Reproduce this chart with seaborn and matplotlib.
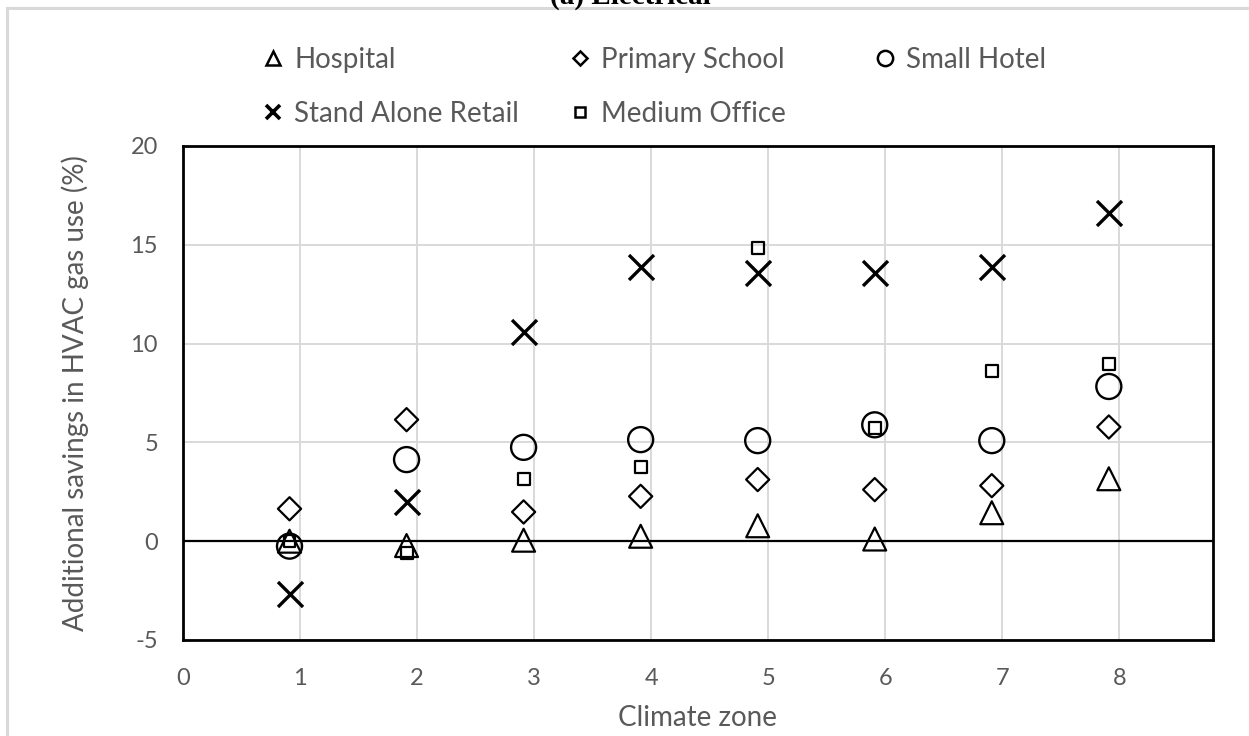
import matplotlib
matplotlib.use("Agg")
import matplotlib.pyplot as plt
import seaborn as sns
import pandas as pd
from matplotlib.lines import Line2D
from matplotlib.patches import Rectangle

# Climate zones and the position each zone's markers sit at
zones = [1, 2, 3, 4, 5, 6, 7, 8]
zone_x = [0.91, 1.91, 2.91, 3.91, 4.91, 5.91, 6.91, 7.91]

# Additional savings in HVAC gas use (%) per building type
hospital = [0.0, -0.22, 0.05, 0.25, 0.78, 0.11, 1.44, 3.16]
primary_school = [1.64, 6.15, 1.48, 2.27, 3.12, 2.61, 2.81, 5.78]
small_hotel = [-0.25, 4.13, 4.75, 5.14, 5.09, 5.89, 5.09, 7.83]
stand_alone_retail = [-2.66, 1.99, 10.6, 13.9, 13.55, 13.55, 13.86, 16.59]
medium_office = [0.0, -0.59, 3.17, 3.74, 14.82, 5.72, 8.62, 8.96]

series_names = ["Hospital", "Primary School", "Small Hotel",
                "Stand Alone Retail", "Medium Office"]
x_ticks = [0, 1, 2, 3, 4, 5, 6, 7, 8]
y_ticks = [-5, 0, 5, 10, 15, 20]

df = pd.DataFrame({
    "x": zone_x * 5,
    "savings": hospital + primary_school + small_hotel + stand_alone_retail + medium_office,
    "building": [n for n in series_names for _ in zones],
})

sns.set_theme(style="white")
plt.rcParams["font.family"] = ["Lato", "DejaVu Sans"]
plt.rcParams["axes.unicode_minus"] = False

W, H = 1249, 736
fig = plt.figure(figsize=(W / 100, H / 100), dpi=100)
fig.patch.set_facecolor("white")

# light chart-area border and the caption above it
fig.add_artist(Rectangle((7 / W, -0.05), 1.2, 1 - 8 / H + 0.05,
                         transform=fig.transFigure, fill=False,
                         edgecolor="#d9d9d9", linewidth=2.2))
fig.text(630 / W, 1 - 4 / H, "(a) Electrical", ha="center", va="baseline",
         fontsize=21, fontweight="bold", family=["Liberation Serif"], color="black")

ax = fig.add_axes([183 / W, 1 - 640 / H, (1213 - 183) / W, (640 - 146) / H])

ink = "#595959"
styles = {
    "Hospital": dict(marker="^", s=16.5 ** 2, linewidth=1.6),
    "Primary School": dict(marker="D", s=11.8 ** 2, linewidth=1.6),
    "Small Hotel": dict(marker="o", s=18 ** 2, linewidth=1.7),
    "Stand Alone Retail": dict(marker="x", s=18 ** 2, linewidth=2.4),
    "Medium Office": dict(marker="s", s=8.6 ** 2, linewidth=1.6),
}

for name in series_names:
    sub = df[df["building"] == name]
    st = styles[name]
    if st["marker"] == "x":
        sns.scatterplot(data=sub, x="x", y="savings", ax=ax, marker="x",
                        s=st["s"], color="black", linewidth=st["linewidth"],
                        zorder=4, legend=False)
    else:
        sns.scatterplot(data=sub, x="x", y="savings", ax=ax, marker=st["marker"],
                        s=st["s"], color="black", facecolor="none",
                        edgecolor="black", linewidth=st["linewidth"],
                        zorder=4, legend=False)

ax.set_xlim(0, 8.8)
ax.set_ylim(-5, 20)
ax.set_xticks(x_ticks)
ax.set_yticks(y_ticks)
ax.grid(True, color="#d9d9d9", linewidth=1.4, zorder=0)
ax.set_axisbelow(True)
ax.axhline(0, color="black", linewidth=1.6, zorder=2)
for sp in ax.spines.values():
    sp.set_visible(True)
    sp.set_color("black")
    sp.set_linewidth(2.0)
ax.tick_params(axis="both", length=0, labelsize=17, labelcolor=ink)
ax.tick_params(axis="x", pad=20)
ax.tick_params(axis="y", pad=18)
ax.set_xlabel("Climate zone", fontsize=20, color=ink, labelpad=12)
ax.set_ylabel("Additional savings in HVAC gas use (%)", fontsize=20, color=ink,
              labelpad=30)

# legend: three columns laid out row by row
legend_marks = {
    "Hospital": dict(marker="^", markersize=10, markeredgewidth=1.8),
    "Primary School": dict(marker="D", markersize=7.5, markeredgewidth=1.8),
    "Small Hotel": dict(marker="o", markersize=11, markeredgewidth=1.8),
    "Stand Alone Retail": dict(marker="x", markersize=10, markeredgewidth=2.6),
    "Medium Office": dict(marker="s", markersize=7, markeredgewidth=1.8),
}
columns = [["Hospital", "Stand Alone Retail"],
           ["Primary School", "Medium Office"],
           ["Small Hotel"]]
col_left = [262, 569, 874]
for names, left in zip(columns, col_left):
    handles = [Line2D([], [], linestyle="none", color="black",
                      markerfacecolor="none", markeredgecolor="black",
                      **legend_marks[n]) for n in names]
    fig.legend(handles, names, loc="upper left",
               bbox_to_anchor=(left / W, 1 - 47 / H), bbox_transform=fig.transFigure,
               frameon=False, fontsize=20, labelcolor=ink, handlelength=0.8,
               handletextpad=0.36, labelspacing=1.0, borderpad=0, borderaxespad=0)

fig.savefig("out.png", dpi=100)
